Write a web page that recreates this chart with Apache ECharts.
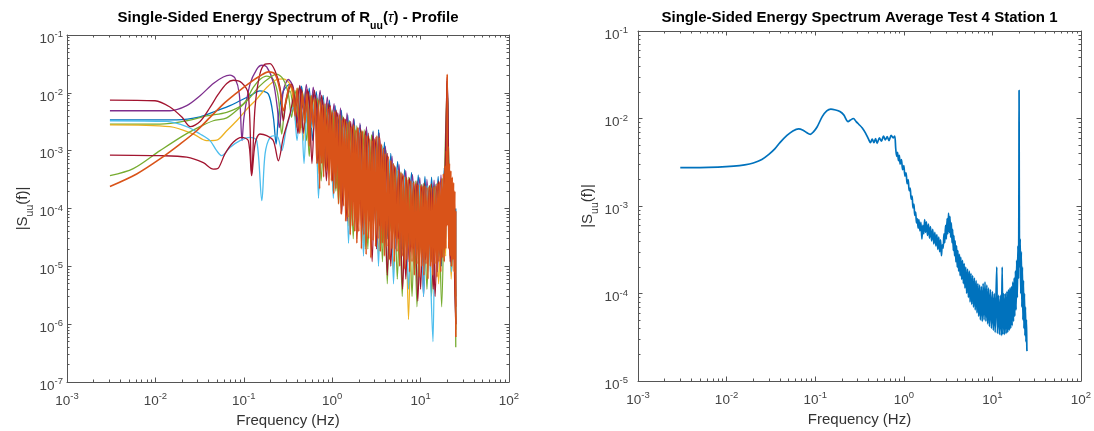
<!DOCTYPE html>
<html><head><meta charset="utf-8">
<script src="https://cdn.jsdelivr.net/npm/echarts@6/dist/echarts.min.js"></script>
<style>html,body{margin:0;padding:0;background:#fff}#c{width:1094px;height:431px}</style>
</head><body><div id="c"></div>
<script>
// ---------- tick labels (decade exponents) ----------
const xTickExps = [-3, -2, -1, 0, 1, 2];
const leftYTickExps = [-7, -6, -5, -4, -3, -2, -1];
const rightYTickExps = [-5, -4, -3, -2, -1];

const leftTitleText = '{m|Single-Sided Energy Spectrum of R}{sub|uu}{m|(}{tau|τ}{m|) - Profile}';
const rightTitleText = '{m|Single-Sided Energy Spectrum Average Test 4 Station 1}';
const yNameText = '{m||S}{sub|uu}{m|(f)|}';
const xNameText = 'Frequency (Hz)';

// ---------- left plot: profile spectra [frequency Hz, |S_uu|] ----------
const leftBlue = [[0.00306,3.42e-3],[0.0174,3.42e-3],[0.032,3.85e-3],[0.0493,4.9e-3],[0.0698,6.0e-3],[0.0906,7.3e-3],[0.1175,8.9e-3],[0.152,1.08e-2],[0.19,9.5e-3],[0.216,3.76e-3],[0.232,1.3e-3],[0.248,4.3e-3],[0.28,1.08e-2],[0.333,1.41e-2],[0.38,8.3e-3],
[0.42,4e-3],[0.45,1.3e-2],[0.50,3e-3],[0.55,1.2e-2],[0.60,1.5e-3],[0.66,1.05e-2],[0.72,2.5e-3],[0.79,9e-3],[0.86,8e-4],[0.93,7.5e-3],[1.0,1.2e-3],[1.08,6.0e-3],[1.17,3e-4],[1.27,5.0e-3],[1.38,5e-4],[1.5,4.2e-3],[1.63,1.5e-4],[1.77,3.5e-3],[1.92,3e-4],[2.08,2.8e-3],[2.25,8e-5],[2.45,2.4e-3],[2.65,2e-4],[2.9,2.2e-3],[3.1,5e-5],[3.35,2.3e-3],[3.6,1.5e-4],[3.9,1.4e-3],[4.2,3e-5],[4.6,9e-4],[5.0,8e-5],[5.5,6.5e-4],[6.0,2e-5],[6.6,4.8e-4],[7.2,5e-5],[7.9,4.2e-4],[8.6,1.5e-5],[9.4,3.8e-4],[10.3,4e-5],[11.2,3.6e-4],[12.2,1.2e-5],[13.3,3.5e-4],[14.5,3e-5],[15.8,3.6e-4],[17.2,1e-5],[18.5,5e-4],[19.5,2e-4],[20.0,1.5e-2],[20.6,4e-4],[21.8,2e-5],[23,2.5e-4],[24.2,1.5e-5],[25,1e-4],[25,3e-6]];

const leftGreenA = [[0.00306,2.88e-3],[0.01127,2.88e-3],[0.0226,3.29e-3],[0.038,4.0e-3],[0.0641,4.6e-3],[0.0986,6.4e-3],[0.128,1.24e-2],[0.152,1.7e-2],[0.1816,1.95e-2],[0.216,1.7e-2],[0.246,8.3e-3],[0.2685,1.94e-3],[0.292,5.6e-3],[0.333,1.08e-2],
[0.37,5e-3],[0.41,1.2e-2],[0.45,2.5e-3],[0.50,1.1e-2],[0.55,8e-4],[0.60,9.5e-3],[0.66,3e-3],[0.73,8.5e-3],[0.80,5e-4],[0.88,6.5e-3],[0.97,1.5e-3],[1.07,5e-3],[1.18,1.2e-4],[1.3,4e-3],[1.43,4e-4],[1.57,3.3e-3],[1.73,3e-5],[1.9,2.7e-3],[2.1,1.2e-4],[2.3,2.3e-3],[2.53,2e-5],[2.78,1.9e-3],[3.06,8e-5],[3.37,1.8e-3],[3.7,1.2e-5],[4.07,1.0e-3],[4.5,4e-5],[4.95,6e-4],[5.45,6e-6],[6.0,4.3e-4],[6.6,2e-5],[7.25,3.5e-4],[8.0,3e-6],[8.8,3e-4],[9.7,1.5e-5],[10.7,2.7e-4],[11.8,4e-6],[13,2.6e-4],[14.3,1.5e-5],[15.7,2.8e-4],[17.3,2e-6],[18.7,4e-4],[20.0,1.4e-2],[21,2.5e-4],[22.5,8e-6],[24,1.5e-4],[25,4e-7]];

const leftYellow = [[0.00306,2.8e-3],[0.0146,2.6e-3],[0.0269,1.94e-3],[0.038,1.49e-3],[0.0493,1.52e-3],[0.0641,2.21e-3],[0.0832,3.29e-3],[0.108,5.2e-3],[0.14,7.8e-3],[0.1816,1.24e-2],[0.236,1.7e-2],[0.28,1.75e-2],[0.333,1.41e-2],[0.363,7.3e-3],[0.396,2.52e-3],
[0.43,8e-3],[0.47,1.5e-3],[0.52,1.0e-2],[0.57,3e-3],[0.63,9e-3],[0.69,4e-4],[0.76,7.5e-3],[0.84,1.2e-3],[0.93,5.5e-3],[1.02,2e-4],[1.13,4.2e-3],[1.25,6e-4],[1.38,3.2e-3],[1.52,5e-5],[1.68,2.6e-3],[1.85,1.5e-4],[2.04,2.2e-3],[2.25,2.5e-5],[2.48,1.8e-3],[2.74,1e-4],[3.02,1.5e-3],[3.33,1.5e-5],[3.67,1.2e-3],[4.05,5e-5],[4.47,6.5e-4],[4.93,8e-6],[5.44,4.5e-4],[6.0,2.5e-5],[6.62,3.4e-4],[7.3,1.2e-6],[8.05,2.8e-4],[8.9,1.5e-5],[9.8,2.5e-4],[10.8,4e-6],[11.9,2.4e-4],[13.2,1.2e-5],[14.5,2.5e-4],[16,5e-6],[17.7,3.2e-4],[19.2,1.5e-5],[20.0,1.2e-2],[20.8,2e-4],[22.2,6e-6],[23.6,1.5e-4],[25,1e-6]];

const leftPurple = [[0.00306,4.9e-3],[0.0146,4.9e-3],[0.0226,6.0e-3],[0.032,8.9e-3],[0.0452,1.45e-2],[0.0586,1.88e-2],[0.0698,2.02e-2],[0.0794,1.8e-2],[0.089,9.5e-3],[0.0955,1.49e-3],[0.1005,3.76e-3],[0.1175,1.41e-2],[0.14,2.55e-2],[0.16,3.0e-2],[0.1816,2.8e-2],[0.216,1.5e-2],[0.239,5.6e-3],[0.2525,2.5e-3],[0.28,1.08e-2],[0.319,1.7e-2],[0.363,1.24e-2],
[0.40,3e-3],[0.43,1.35e-2],[0.47,5e-3],[0.51,1.4e-2],[0.56,2e-3],[0.61,1.25e-2],[0.67,4e-3],[0.73,1.1e-2],[0.80,1e-3],[0.88,8.5e-3],[0.96,2e-3],[1.05,6.5e-3],[1.14,5e-4],[1.24,5.5e-3],[1.35,2e-4],[1.47,4.5e-3],[1.6,4e-4],[1.74,3.6e-3],[1.9,1e-4],[2.06,3.0e-3],[2.24,2.5e-4],[2.44,2.6e-3],[2.66,6e-5],[2.9,2.1e-3],[3.15,1.5e-4],[3.4,2.0e-3],[3.7,4e-5],[4.0,1.2e-3],[4.35,1e-4],[4.75,8e-4],[5.2,2e-5],[5.7,5.8e-4],[6.2,6e-5],[6.8,4.5e-4],[7.4,1.2e-5],[8.1,3.9e-4],[8.9,4e-5],[9.8,3.4e-4],[10.8,3e-6],[11.8,3.2e-4],[13,2.5e-5],[14.2,3.1e-4],[15.5,8e-6],[17,3.8e-4],[18.3,3e-5],[19.3,7e-4],[20.0,1.8e-2],[20.7,5e-4],[22,1.5e-5],[23.4,2.2e-4],[24.6,5e-6],[25,1e-6]];

const leftGreenB = [[0.00306,3.7e-4],[0.00562,4.9e-4],[0.01127,1e-3],[0.0207,1.82e-3],[0.032,2.6e-3],[0.0452,3.29e-3],[0.0641,3.7e-3],[0.0906,5.6e-3],[0.1175,8.3e-3],[0.152,1.32e-2],[0.198,1.84e-2],[0.236,2.1e-2],[0.28,1.7e-2],[0.319,9.5e-3],[0.347,3.76e-3],
[0.38,1.1e-2],[0.42,3.5e-3],[0.46,1.05e-2],[0.51,1.5e-3],[0.56,9e-3],[0.62,3.5e-3],[0.68,8e-3],[0.75,3e-4],[0.83,6e-3],[0.91,1e-3],[1.0,5e-3],[1.1,2e-4],[1.21,4e-3],[1.33,6e-4],[1.46,3.2e-3],[1.61,4e-5],[1.77,2.6e-3],[1.95,2e-4],[2.15,2.2e-3],[2.37,2e-5],[2.6,1.8e-3],[2.86,8e-5],[3.15,1.6e-3],[3.46,2.5e-5],[3.8,1.1e-3],[4.2,5e-6],[4.6,6.5e-4],[5.1,3e-5],[5.6,4.5e-4],[6.2,3e-6],[6.8,3.4e-4],[7.5,2e-5],[8.3,2.9e-4],[9.1,2e-6],[10,2.6e-4],[11,1.5e-5],[12.1,2.5e-4],[13.3,3e-6],[14.6,2.6e-4],[16,1.5e-5],[17.6,3.3e-4],[19,5e-5],[20,1.3e-2],[21,2.5e-4],[22.4,1e-5],[23.8,1.3e-4],[25,8e-7]];

const leftLightBlue = [[0.00306,3.29e-3],[0.0134,3.2e-3],[0.0226,2.6e-3],[0.032,1.94e-3],[0.0415,1.49e-3],[0.0493,1e-3],[0.0562,8.2e-4],[0.0698,1.14e-3],[0.0906,1.49e-3],[0.1175,1.7e-3],[0.14,1.49e-3],[0.16,1.37e-4],[0.174,8.8e-4],[0.198,1.7e-3],[0.236,1.82e-3],[0.2685,1e-3],[0.305,2.52e-3],[0.363,5.6e-3],
[0.40,1.5e-3],[0.44,9e-3],[0.48,6e-4],[0.53,1.0e-2],[0.58,2.5e-3],[0.64,8.5e-3],[0.70,1.5e-4],[0.77,7e-3],[0.85,1.2e-3],[0.94,5.5e-3],[1.03,1.5e-4],[1.14,4.5e-3],[1.26,5e-4],[1.39,3.5e-3],[1.53,2.5e-5],[1.69,2.8e-3],[1.86,1.5e-4],[2.05,2.3e-3],[2.26,1.5e-5],[2.5,1.9e-3],[2.75,8e-5],[3.03,1.6e-3],[3.34,1e-5],[3.68,1.2e-3],[4.06,4e-5],[4.48,7e-4],[4.94,5e-6],[5.45,4.6e-4],[6.0,2e-5],[6.6,3.5e-4],[7.3,4e-6],[8.05,3e-4],[8.9,1.5e-5],[9.8,2.7e-4],[10.8,3e-6],[11.9,2.5e-4],[12.8,1.2e-5],[13.8,5e-7],[14.8,2.6e-4],[16.2,1.5e-5],[17.8,3.2e-4],[19.2,3e-5],[20.0,1.1e-2],[20.9,2.4e-4],[22.3,8e-6],[23.7,1.4e-4],[25,1.5e-6]];

const leftDarkRedA = [[0.00306,7.5e-3],[0.0099,7.3e-3],[0.0146,5.7e-3],[0.0198,3.85e-3],[0.025,2.6e-3],[0.032,3.2e-3],[0.0415,5.6e-3],[0.0515,9.5e-3],[0.0641,1.45e-2],[0.076,1.65e-2],[0.0946,1.5e-2],[0.1125,9.5e-3],[0.1227,3.96e-4],[0.134,5.6e-3],[0.152,2.1e-2],[0.174,3.13e-2],[0.198,3.2e-2],[0.2255,2.4e-2],[0.257,1.24e-2],[0.28,3.29e-3],[0.305,8.3e-3],[0.347,1.41e-2],
[0.39,6e-3],[0.43,1.3e-2],[0.47,2e-3],[0.52,1.15e-2],[0.57,5e-3],[0.63,1.1e-2],[0.69,6e-4],[0.76,9e-3],[0.84,2.5e-3],[0.92,6.5e-3],[1.01,3e-4],[1.11,5e-3],[1.22,8e-4],[1.34,3.8e-3],[1.47,6e-5],[1.62,3.2e-3],[1.78,2e-4],[1.96,2.5e-3],[2.16,4e-5],[2.38,2.2e-3],[2.62,1.2e-4],[2.88,1.8e-3],[3.17,2e-5],[3.45,1.7e-3],[3.8,6e-5],[4.2,9e-4],[4.6,1e-5],[5.1,5.5e-4],[5.6,3e-5],[6.2,4e-4],[6.8,6e-6],[7.5,3.4e-4],[8.3,2e-5],[9.1,3.0e-4],[10,4e-6],[11,2.8e-4],[12.1,1.5e-5],[13.3,2.7e-4],[14.6,3e-6],[16,3e-4],[17.6,2e-5],[19,6e-4],[20.0,1.9e-2],[20.9,3e-4],[22.3,1e-5],[23.7,1.8e-4],[25,2e-6]];

const leftDarkRedB = [[0.00306,8.4e-4],[0.01127,8.2e-4],[0.0226,7.7e-4],[0.0348,6.2e-4],[0.0452,4.8e-4],[0.0515,5.0e-4],[0.0612,8.8e-4],[0.076,1.4e-3],[0.0946,1.7e-3],[0.1125,1.49e-3],[0.1227,3.7e-4],[0.134,1.3e-3],[0.152,1.94e-3],[0.1816,1.82e-3],[0.216,1.49e-3],[0.246,6.7e-4],[0.28,1.7e-3],[0.333,4.3e-3],
[0.37,9e-3],[0.41,2e-3],[0.45,1.15e-2],[0.49,4e-3],[0.54,1.05e-2],[0.59,6e-4],[0.65,9e-3],[0.71,2e-3],[0.78,7.5e-3],[0.86,3e-4],[0.95,6e-3],[1.05,9e-4],[1.16,4.5e-3],[1.28,8e-5],[1.41,3.5e-3],[1.56,3e-4],[1.72,2.9e-3],[1.9,3e-5],[2.1,2.4e-3],[2.32,1e-4],[2.56,2e-3],[2.83,1.2e-5],[3.12,1.7e-3],[3.44,5e-5],[3.8,1.1e-3],[4.2,7e-6],[4.64,6.2e-4],[5.12,3e-5],[5.66,4.4e-4],[6.25,4e-6],[6.9,3.4e-4],[7.6,1.8e-5],[8.4,2.9e-4],[9.3,2.5e-6],[10.3,2.6e-4],[11.4,1.3e-5],[12.6,2.5e-4],[13.9,4e-6],[15.3,2.7e-4],[16.9,1.2e-5],[18.5,3.8e-4],[19.6,8e-5],[20.0,1.6e-2],[20.5,5e-4],[21.6,1.2e-5],[23,2e-4],[24.4,4e-6],[25,1e-6]];

const leftOrange = [[0.00306,2.4e-4],[0.00614,3.96e-4],[0.01127,7.2e-4],[0.019,1.3e-3],[0.0293,2.21e-3],[0.0415,3.76e-3],[0.0586,6.4e-3],[0.0832,1.0e-2],[0.1175,1.5e-2],[0.152,1.95e-2],[0.19,2.3e-2],[0.2255,2.1e-2],[0.257,1.08e-2],[0.28,4.9e-3],[0.305,8.3e-3],[0.333,1.41e-2],
[0.36,1.1e-2],[0.38,4e-3],[0.40,1.2e-2],[0.43,2e-3],[0.46,1.0e-2],[0.49,3e-3],[0.52,9.5e-3],[0.55,1.2e-3],[0.58,9e-3],[0.61,2.5e-3],[0.64,8e-3],[0.67,6e-4],[0.70,7.5e-3],[0.72,2.2e-4],[0.74,7.0e-3],[0.76,6e-4],[0.78,6.2e-3],[0.80,3.5e-4],[0.83,6.6e-3],[0.86,4.5e-4],[0.89,5.4e-3],[0.92,2.5e-4],[0.95,5.8e-3],[0.98,3e-4],[1.01,4.6e-3],[1.04,1.8e-4],[1.07,4.8e-3],[1.10,2.2e-4],[1.14,3.9e-3],[1.18,1.2e-4],[1.22,4.2e-3],[1.26,8e-5],[1.30,3.4e-3],[1.34,1.1e-4],[1.38,3.6e-3],[1.42,6e-5],[1.46,3.0e-3],[1.50,7e-5],[1.55,3.2e-3],[1.60,3.5e-5],[1.65,2.6e-3],[1.70,5e-5],[1.75,2.8e-3],[1.80,4e-5],[1.85,2.3e-3],[1.90,2.5e-5],[1.95,2.5e-3],[2.0,4e-5],[2.07,2.1e-3],[2.14,2.0e-5],[2.21,2.2e-3],[2.28,3.5e-5],[2.35,1.9e-3],[2.42,1.6e-5],[2.50,1.8e-3],[2.58,3e-5],[2.66,1.6e-3],[2.74,1.4e-5],[2.82,1.5e-3],[2.90,2.8e-5],[3.0,1.6e-3],[3.1,2.2e-5],[3.2,1.8e-3],[3.3,3e-5],[3.4,1.7e-3],[3.5,1.8e-5],[3.6,1.3e-3],[3.7,2.5e-5],[3.8,1.1e-3],[3.9,1.5e-5],[4.0,9e-4],[4.15,2.2e-5],[4.3,8e-4],[4.45,1.3e-5],[4.6,6.8e-4],[4.75,2e-5],[4.9,6e-4],[5.05,1.2e-5],[5.2,5.2e-4],[5.4,1.8e-5],[5.6,4.6e-4],[5.8,1.0e-5],[6.0,4.2e-4],[6.2,1.5e-5],[6.4,3.8e-4],[6.6,9e-6],[6.8,3.5e-4],[7.0,1.3e-5],[7.25,3.2e-4],[7.5,8e-6],[7.75,3.0e-4],[8.0,1.2e-5],[8.25,2.8e-4],[8.5,7e-6],[8.8,2.7e-4],[9.1,1.1e-5],[9.4,2.6e-4],[9.7,6.5e-6],[10.0,2.5e-4],[10.3,1.0e-5],[10.6,2.4e-4],[10.9,7e-6],[11.2,2.5e-4],[11.5,1.1e-5],[11.8,2.3e-4],[12.1,6e-6],[12.5,2.4e-4],[12.9,1.0e-5],[13.3,2.3e-4],[13.7,7e-6],[14.1,2.4e-4],[14.5,1.1e-5],[14.9,2.5e-4],[15.3,6.5e-6],[15.7,2.7e-4],[16.1,1.2e-5],[16.5,2.9e-4],[16.9,8e-6],[17.3,3.3e-4],[17.7,1.4e-5],[18.1,4.0e-4],[18.5,1.2e-5],[18.9,5.5e-4],[19.3,2e-5],[19.6,1.0e-3],[19.9,5e-5],[20.0,2.1e-2],[20.1,6e-5],[20.4,1.2e-3],[20.8,2e-5],[21.2,6e-4],[21.6,1.5e-5],[22.0,4.5e-4],[22.4,1.0e-5],[22.8,3.5e-4],[23.2,1.3e-5],[23.6,2.8e-4],[24.0,8e-6],[24.4,2e-4],[24.7,3e-6],[25.0,9e-5],[25.0,6e-7]];

// ---------- right plot: averaged spectrum ----------
const rightAverage = [[0.003,2.75e-3],[0.005,2.75e-3],[0.008,2.78e-3],[0.012,2.85e-3],[0.016,2.95e-3],[0.02,3.1e-3],[0.025,3.4e-3],[0.03,3.9e-3],[0.035,4.5e-3],[0.04,5.3e-3],[0.048,6.4e-3],[0.056,7.2e-3],[0.065,7.6e-3],[0.072,7.4e-3],[0.08,6.9e-3],[0.088,6.6e-3],[0.095,7.0e-3],[0.105,8.0e-3],[0.12,1.05e-2],[0.135,1.22e-2],[0.15,1.28e-2],[0.17,1.25e-2],[0.19,1.2e-2],[0.21,1.1e-2],[0.235,9.2e-3],[0.25,9.6e-3],[0.27,1.0e-2],[0.29,9.2e-3],[0.31,8.6e-3],[0.34,7.8e-3],[0.37,6.8e-3],[0.40,5.8e-3],[0.42,5.3e-3],[0.44,5.8e-3],[0.46,5.3e-3],[0.48,5.9e-3],[0.50,5.2e-3],[0.53,6.0e-3],[0.56,5.5e-3],[0.59,6.3e-3],[0.62,5.7e-3],[0.65,6.2e-3],[0.68,5.6e-3],[0.72,6.4e-3],[0.76,6.0e-3],[0.79,6.3e-3],
[0.81,4.6e-3],[0.83,3.7e-3],[0.85,4.1e-3],[0.87,3.3e-3],[0.89,3.8e-3],[0.91,3.0e-3],[0.94,3.4e-3],[0.97,2.6e-3],[1.0,2.9e-3],[1.03,2.2e-3],[1.06,2.4e-3],[1.09,1.8e-3],[1.12,2.0e-3],[1.15,1.5e-3],[1.18,1.6e-3],[1.21,1.2e-3],[1.24,1.3e-3],[1.27,9.5e-4],[1.30,1.05e-3],[1.33,7.8e-4],[1.36,8.5e-4],[1.39,6.4e-4],[1.42,7.2e-4],[1.45,5.6e-4],[1.48,7.0e-4],[1.52,5.2e-4],[1.56,6.5e-4],[1.60,4.2e-4],[1.64,6.0e-4],[1.68,4.8e-4],[1.72,7.0e-4],[1.76,5.0e-4],[1.80,6.6e-4],[1.85,4.6e-4],[1.90,6.2e-4],[1.95,4.3e-4],[2.0,5.8e-4],[2.06,4.0e-4],[2.12,5.4e-4],[2.18,3.7e-4],[2.24,5.0e-4],[2.30,3.5e-4],[2.36,4.7e-4],[2.42,3.2e-4],[2.48,4.4e-4],[2.54,3.0e-4],[2.60,4.1e-4],[2.66,2.7e-4],[2.72,3.6e-4],[2.78,3.3e-4],[2.84,4.8e-4],[2.90,3.8e-4],[2.96,6.0e-4],[3.02,4.2e-4],[3.08,7.2e-4],[3.14,4.8e-4],[3.20,8.3e-4],[3.26,5.0e-4],[3.32,7.6e-4],[3.38,4.4e-4],[3.44,6.4e-4],[3.50,3.8e-4],[3.56,5.4e-4],[3.62,3.1e-4],[3.68,4.6e-4],[3.74,2.7e-4],[3.80,4.0e-4],[3.87,2.3e-4],[3.94,3.5e-4],[4.01,2.0e-4],[4.08,3.1e-4],[4.16,1.8e-4],[4.24,2.8e-4],[4.32,1.6e-4],[4.40,2.6e-4],[4.50,1.45e-4],[4.60,2.4e-4],[4.70,1.3e-4],[4.80,2.2e-4],[4.90,1.15e-4],[5.0,2.0e-4],[5.12,1.0e-4],[5.24,1.9e-4],[5.36,9e-5],[5.48,1.8e-4],[5.6,8e-5],[5.72,1.7e-4],[5.85,7.5e-5],[5.98,1.6e-4],[6.12,7e-5],[6.26,1.5e-4],[6.4,6.5e-5],[6.55,1.4e-4],[6.7,6e-5],[6.85,1.3e-4],[7.0,5.5e-5],[7.16,1.25e-4],[7.32,5e-5],[7.5,1.2e-4],[7.68,4.8e-5],[7.86,1.3e-4],[8.05,5e-5],[8.25,1.35e-4],[8.45,4.8e-5],[8.65,1.25e-4],[8.85,4.5e-5],[9.05,1.15e-4],[9.25,4.2e-5],[9.5,1.1e-4],[9.75,4e-5],[10.0,1.05e-4],[10.25,3.8e-5],[10.5,1.0e-4],[10.75,3.6e-5],[11.0,9.8e-5],[11.2,2.0e-4],[11.4,3.5e-5],[11.7,9.5e-5],[12.0,3.4e-5],[12.3,9.5e-5],[12.6,3.3e-5],[12.9,2.0e-4],[13.1,3.4e-5],[13.4,1.0e-4],[13.7,3.4e-5],[14.0,1.0e-4],[14.3,3.5e-5],[14.6,1.05e-4],[14.9,3.6e-5],[15.2,1.1e-4],[15.5,3.8e-5],[15.8,1.15e-4],[16.1,4e-5],[16.4,1.2e-4],[16.7,4.3e-5],[17.0,1.35e-4],[17.3,4.8e-5],[17.6,1.5e-4],[17.9,5.5e-5],[18.2,1.8e-4],[18.5,6.5e-5],[18.8,2.4e-4],[19.1,9e-5],[19.4,3.5e-4],[19.7,1.5e-4],[19.9,1.2e-3],[20.0,2.1e-2],[20.1,1.5e-3],[20.3,2.0e-4],[20.6,4.2e-4],[20.9,1.0e-4],[21.2,3.0e-4],[21.5,7e-5],[21.8,2.0e-4],[22.1,5e-5],[22.4,1.4e-4],[22.7,4e-5],[23.0,1.0e-4],[23.3,3.3e-5],[23.6,7e-5],[23.9,2.8e-5],[24.2,5e-5],[24.5,2.3e-5],[24.6,2.2e-5]];

// ---------- styling ----------
const leftLines = [leftBlue, leftGreenA, leftYellow, leftPurple, leftGreenB, leftLightBlue, leftDarkRedA, leftDarkRedB, leftOrange];
const leftColors = ['#0072BD', '#77AC30', '#EDB120', '#7E2F8E', '#77AC30', '#4DBEEE', '#A2142F', '#A2142F', '#D95319'];
const leftWidths = [1.3, 1.3, 1.3, 1.3, 1.3, 1.3, 1.3, 1.3, 1.6];
const FONT = '"Liberation Sans", Arial, Helvetica, sans-serif';
const AX = '#555';
const TXT = '#444';

const tickRich = {
  b: {fontFamily: FONT, fontSize: 13.5, color: TXT, height: 14, lineHeight: 16, verticalAlign: 'bottom'},
  sup: {fontFamily: FONT, fontSize: 9.5, color: TXT, height: 9, verticalAlign: 'top'}
};
function tickFmt(exps) {
  return function (v) {
    const e = Math.round(Math.log10(v));
    return exps.indexOf(e) >= 0 ? '{b|10}{sup|' + e + '}' : '';
  };
}
const titleRich = {
  m: {fontFamily: FONT, fontSize: 15, fontWeight: 'bold', color: '#000', height: 15, lineHeight: 21, verticalAlign: 'top'},
  sub: {fontFamily: FONT, fontSize: 10.5, fontWeight: 'bold', color: '#000', height: 10, verticalAlign: 'bottom'},
  tau: {fontFamily: FONT, fontSize: 15, fontStyle: 'italic', fontWeight: 'normal', color: '#000', height: 15, lineHeight: 21, verticalAlign: 'top'}
};
const nameRich = {
  m: {fontFamily: FONT, fontSize: 15, color: '#333', height: 15, lineHeight: 20, verticalAlign: 'top'},
  sub: {fontFamily: FONT, fontSize: 10.5, color: '#333', height: 10, verticalAlign: 'bottom'}
};

function logAxis(o) {
  return Object.assign({
    type: 'log', logBase: 10,
    axisLine: {show: true, onZero: false, lineStyle: {color: AX, width: 1}},
    axisTick: {show: true, inside: true, length: 4.5, lineStyle: {color: AX, width: 1}},
    minorTick: {show: true, splitNumber: 9, length: 2.5, lineStyle: {color: AX, width: 1}},
    splitLine: {show: false}, minorSplitLine: {show: false},
    axisLabel: {show: false},
    axisPointer: {show: false}
  }, o);
}
function xLabel(exps) {
  return {show: true, margin: 10, formatter: tickFmt(exps), rich: tickRich, showMinLabel: true, showMaxLabel: true, hideOverlap: false};
}
function yLabel(exps, margin) {
  return {show: true, margin: margin, padding: [6, 0, 0, 0], formatter: tickFmt(exps), rich: tickRich, showMinLabel: true, showMaxLabel: true, hideOverlap: false};
}

const xAxes = [
  logAxis({gridIndex: 0, position: 'bottom', min: 1e-3, max: 1e2, axisLabel: xLabel(xTickExps),
    name: xNameText, nameLocation: 'middle', nameGap: 31, nameTextStyle: {fontFamily: FONT, fontSize: 15, color: '#333'}}),
  logAxis({gridIndex: 0, position: 'top', min: 1e-3, max: 1e2}),
  logAxis({gridIndex: 1, position: 'bottom', min: 1e-3, max: 1e2, axisLabel: xLabel(xTickExps),
    name: xNameText, nameLocation: 'middle', nameGap: 31, nameTextStyle: {fontFamily: FONT, fontSize: 15, color: '#333'}}),
  logAxis({gridIndex: 1, position: 'top', min: 1e-3, max: 1e2})
];
const yAxes = [
  logAxis({gridIndex: 0, position: 'left', min: 1e-7, max: 1e-1, axisLabel: yLabel(leftYTickExps, 4),
    name: yNameText, nameLocation: 'middle', nameGap: 30, nameTextStyle: {fontFamily: FONT, fontSize: 15, color: '#333', rich: nameRich}}),
  logAxis({gridIndex: 0, position: 'right', min: 1e-7, max: 1e-1}),
  logAxis({gridIndex: 1, position: 'left', min: 1e-5, max: 1e-1, axisLabel: yLabel(rightYTickExps, 10),
    name: yNameText, nameLocation: 'middle', nameGap: 37, nameTextStyle: {fontFamily: FONT, fontSize: 15, color: '#333', rich: nameRich}}),
  logAxis({gridIndex: 1, position: 'right', min: 1e-5, max: 1e-1})
];

const series = leftLines.map(function (d, i) {
  return {type: 'line', xAxisIndex: 0, yAxisIndex: 0, data: d, symbol: 'none', showSymbol: false, smooth: 0.3,
    lineStyle: {width: leftWidths[i], color: leftColors[i]}, itemStyle: {color: leftColors[i]}, silent: true};
});
series.push({type: 'line', xAxisIndex: 2, yAxisIndex: 2, data: rightAverage, symbol: 'none', showSymbol: false, smooth: 0.3,
  lineStyle: {width: 1.7, color: '#0072BD'}, itemStyle: {color: '#0072BD'}, silent: true});

const chart = echarts.init(document.getElementById('c'), null, {renderer: 'canvas'});
chart.setOption({
  animation: false,
  backgroundColor: '#fff',
  title: [
    {text: leftTitleText, left: 288, top: 10, textAlign: 'center', padding: 0, textStyle: {fontFamily: FONT, fontSize: 15, fontWeight: 'bold', color: '#000', rich: titleRich}},
    {text: rightTitleText, left: 859.5, top: 10, textAlign: 'center', padding: 0, textStyle: {fontFamily: FONT, fontSize: 15, fontWeight: 'bold', color: '#000', rich: titleRich}}
  ],
  grid: [
    {left: 67, top: 35, width: 442, height: 347, containLabel: false, outerBoundsMode: 'none'},
    {left: 638, top: 31, width: 443, height: 350, containLabel: false, outerBoundsMode: 'none'}
  ],
  xAxis: xAxes,
  yAxis: yAxes,
  series: series
});
</script>
</body></html>
